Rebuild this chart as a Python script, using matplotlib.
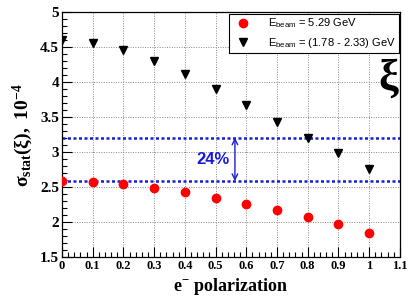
import matplotlib
matplotlib.use("Agg")
import matplotlib.pyplot as plt
from matplotlib.ticker import MultipleLocator

# data
polarization = [0.0, 0.1, 0.2, 0.3, 0.4, 0.5, 0.6, 0.7, 0.8, 0.9, 1.0]
sigma_529 = [2.59, 2.58, 2.54, 2.49, 2.43, 2.35, 2.26, 2.17, 2.08, 1.97, 1.85]
sigma_low = [4.60, 4.57, 4.47, 4.31, 4.12, 3.90, 3.67, 3.44, 3.21, 2.99, 2.76]
band_low = 2.59
band_high = 3.21
band_label = "24%"

plt.rcParams["mathtext.fontset"] = "custom"
plt.rcParams["mathtext.rm"] = "Liberation Serif:bold"
plt.rcParams["mathtext.it"] = "Liberation Serif:bold"
plt.rcParams["mathtext.bf"] = "Liberation Serif:bold"

serif = {"family": "Liberation Serif", "weight": "bold"}

fig = plt.figure(figsize=(4.08, 2.96), dpi=100)
ax = fig.add_axes([0.152, 0.131, 0.828, 0.827])

ax.set_xlim(0, 1.1)
ax.set_ylim(1.5, 5)
ax.grid(True, color="#888888", linestyle=(0, (1, 1.5)), linewidth=0.7)
ax.set_axisbelow(True)

# blue dotted band lines + arrow
for yv in (band_low, band_high):
    ax.axhline(yv, color="#1a1adc", linestyle=(0, (1.2, 1.0)), linewidth=1.8, zorder=2)
ax.annotate("", xy=(0.563, band_high), xytext=(0.563, band_low),
            arrowprops=dict(arrowstyle="<->", color="#1a1adc", lw=1.0,
                            shrinkA=0, shrinkB=0))
ax.text(0.49, 2.90, band_label, color="#1a1adc", fontsize=12, fontweight="bold",
        family="Liberation Sans", ha="center", va="center")

ax.plot(polarization, sigma_529, "o", color="red", markersize=6, zorder=3,
        label=r"E$_{\mathregular{beam}}$ = 5.29 GeV")
ax.plot(polarization, sigma_low, "v", color="black", markersize=6, zorder=3,
        label=r"E$_{\mathregular{beam}}$ = (1.78 - 2.33) GeV")

leg = ax.legend(loc="upper right", bbox_to_anchor=(1.0, 1.0), fancybox=False,
                framealpha=1, edgecolor="black", borderaxespad=0.1,
                prop={"family": "Liberation Sans", "size": 8},
                handletextpad=1.2, borderpad=0.3, labelspacing=0.5)
leg.get_frame().set_linewidth(0.8)

ax.text(1.062, 4.05, "ξ", fontsize=32, ha="center", va="center",
        family="Liberation Serif", fontweight="bold")

ax.xaxis.set_major_locator(MultipleLocator(0.1))
ax.xaxis.set_minor_locator(MultipleLocator(0.02))
ax.yaxis.set_major_locator(MultipleLocator(0.5))
ax.yaxis.set_minor_locator(MultipleLocator(0.1))
ax.tick_params(which="both", direction="in", top=False, right=False)
ax.tick_params(which="major", length=7, width=0.8, pad=2)
ax.tick_params(which="minor", length=3.5, width=0.8)
ax.set_xticks([round(0.1 * i, 1) for i in range(12)])
ax.set_xticklabels(["0", "0.1", "0.2", "0.3", "0.4", "0.5", "0.6", "0.7",
                    "0.8", "0.9", "1", "1.1"])
ax.set_yticks([1.5, 2, 2.5, 3, 3.5, 4, 4.5, 5])
ax.set_yticklabels(["1.5", "2", "2.5", "3", "3.5", "4", "4.5", "5"])
for lab in ax.get_xticklabels():
    lab.set_fontproperties(serif)
    lab.set_fontsize(9)
for lab in ax.get_yticklabels():
    lab.set_fontproperties(serif)
    lab.set_fontsize(11)
for sp in ax.spines.values():
    sp.set_linewidth(0.9)

ax.set_xlabel(r"e$^{\mathrm{-}}$ polarization", fontdict=serif, fontsize=13, labelpad=3)
ax.set_ylabel(r"$\mathrm{\sigma_{stat}(\xi),\ 10^{-4}}$",
              fontdict=serif, fontsize=14, labelpad=4)

fig.savefig("out.png", dpi=100)
